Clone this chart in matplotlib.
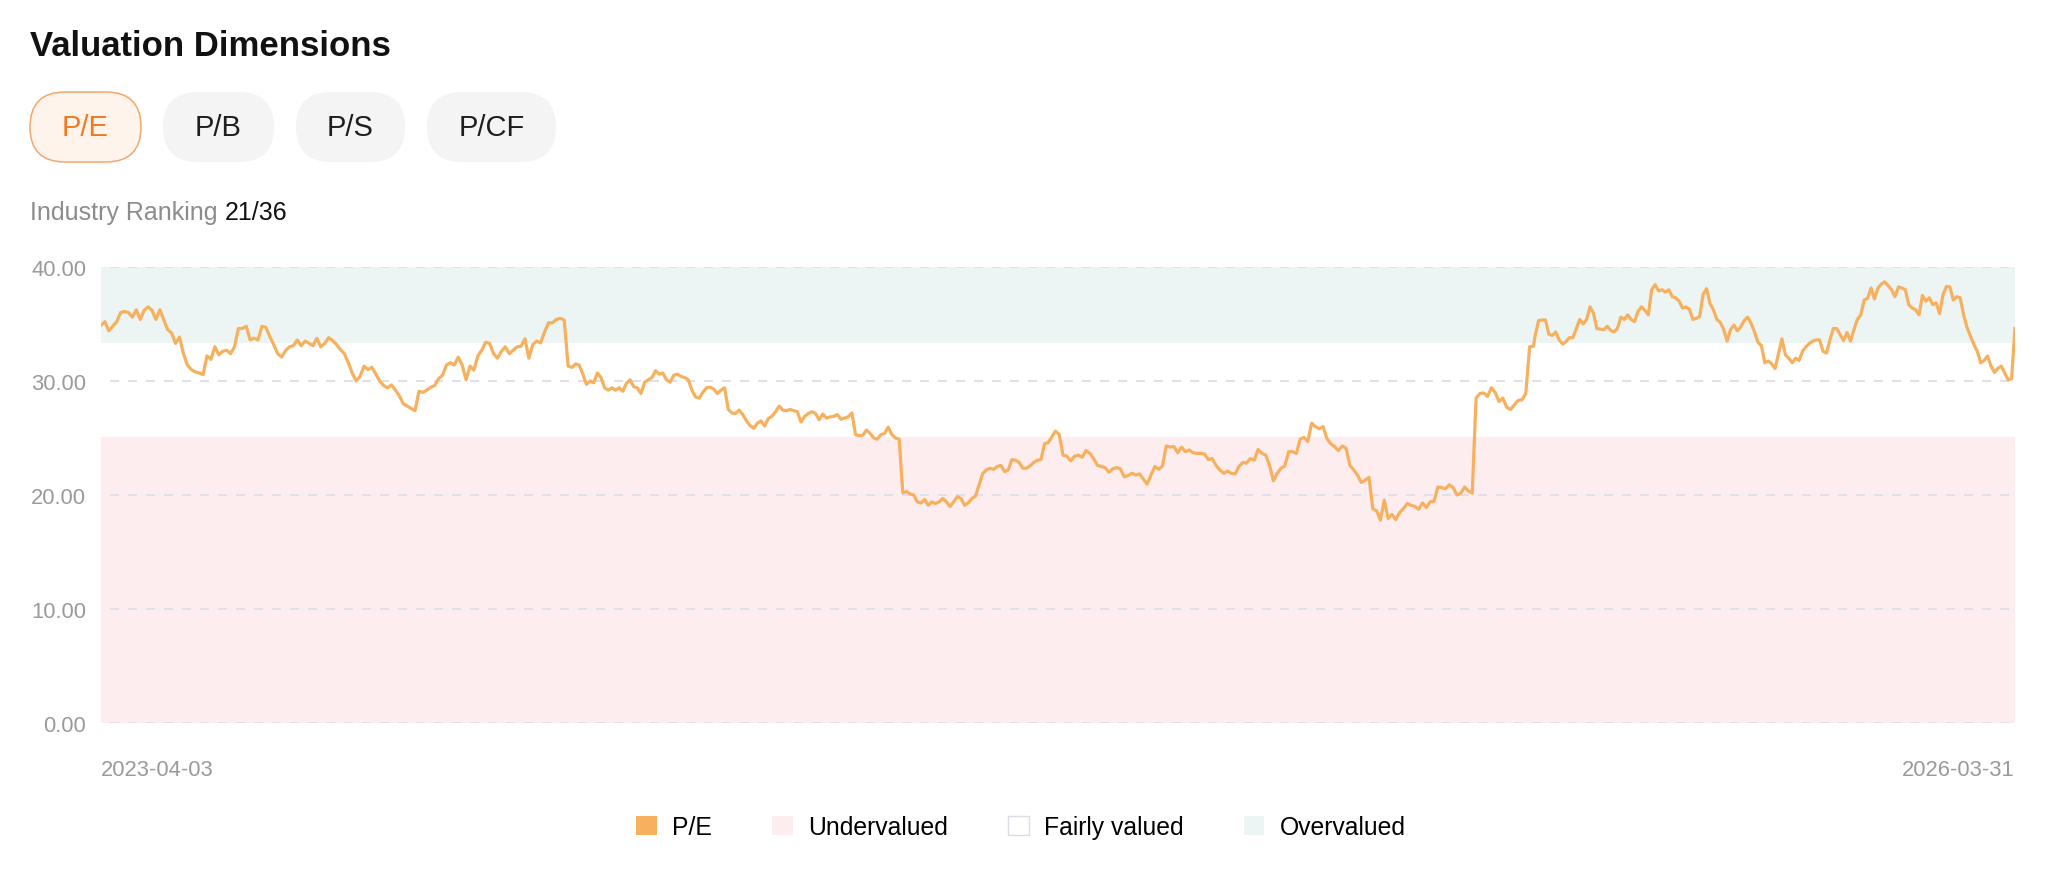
import matplotlib
matplotlib.use('Agg')
import matplotlib.pyplot as plt
import pandas as pd
from matplotlib.patches import FancyBboxPatch, Patch
from matplotlib.transforms import IdentityTransform

plt.rcParams['font.family'] = ['Liberation Sans', 'DejaVu Sans']

# P/E values, in four pieces (each piece spans its own date range)
pe_1 = [34.9, 35.2, 34.4, 34.8, 35.2, 36.0, 36.1, 36.0, 35.6, 36.25, 35.4, 36.2, 36.5, 36.2,
        35.4, 36.25, 35.35, 34.5, 34.2, 33.3, 33.85, 32.4, 31.4, 31.0, 30.8, 30.7, 30.55, 32.2,
        31.9, 33.0, 32.3, 32.6, 32.7, 32.4, 33.0, 34.6, 34.6, 34.8, 33.6, 33.75, 33.6, 34.8,
        34.7, 33.9, 33.2, 32.4, 32.1, 32.65, 33.0, 33.1, 33.6, 33.1, 33.5, 33.3, 33.1, 33.75,
        33.0, 33.3, 33.8, 33.55, 33.2, 32.75, 32.4, 31.6, 30.7, 30.0, 30.4, 31.3, 31.0, 31.2,
        30.6, 30.0, 29.6, 29.4, 29.65, 29.2, 28.7, 28.0, 27.8, 27.6, 27.4, 29.1, 29.0, 29.2,
        29.45, 29.6, 30.2, 30.5, 31.4, 31.6, 31.4, 32.1, 31.4, 30.1, 31.3, 30.95, 32.2, 32.7,
        33.4, 33.3, 32.4, 32.0, 32.6, 33.0, 32.4, 32.7, 33.0, 33.05, 33.7, 32.0, 33.2, 33.5,
        33.35, 34.3, 35.1, 35.1, 35.4, 35.5, 35.35, 31.3, 31.2]
pe_2 = [31.5, 31.4, 30.6, 29.7, 30.0, 29.85, 30.7, 30.3, 29.4, 29.2, 29.4, 29.2, 29.4, 29.1,
        29.8, 30.1, 29.5, 29.4, 28.9, 29.9, 30.1, 30.3, 30.9, 30.6, 30.7, 30.1, 29.9, 30.5,
        30.6, 30.4, 30.3, 30.1, 29.2, 28.6, 28.5, 29.0, 29.4, 29.45, 29.3, 28.9, 29.2, 29.4,
        27.5, 27.2, 27.15, 27.45, 27.05, 26.5, 26.1, 25.85, 26.3, 26.5, 26.05, 26.7, 26.9, 27.3,
        27.8, 27.45, 27.4, 27.5, 27.4, 27.3, 26.4, 26.9, 27.15, 27.3, 27.15, 26.6, 27.1, 26.75,
        26.85, 26.9, 27.05, 26.65, 26.75, 26.85, 27.2, 25.3, 25.2, 25.25, 25.7, 25.4, 25.0,
        24.9, 25.3, 25.4, 25.95, 25.3, 25.0, 24.9, 20.2, 20.3, 20.1, 20.0, 19.4, 19.3, 19.6,
        19.1, 19.4, 19.25, 19.4, 19.7, 19.4, 19.0, 19.4, 19.85, 19.7, 19.1, 19.3, 19.7, 19.9,
        20.9, 21.9, 22.2, 22.35, 22.25, 22.5, 22.6, 22.05, 22.2, 23.1, 23.05, 22.85, 22.35,
        22.35, 22.55, 22.85, 23.05, 23.1, 24.5, 24.6, 25.1]
pe_3 = [25.6, 25.3, 23.5, 23.4, 23.0, 23.4, 23.5, 23.3, 23.9, 23.65, 23.2, 22.6, 22.5, 22.4,
        22.0, 22.3, 22.4, 22.3, 21.6, 21.7, 21.9, 21.75, 21.85, 21.4, 20.95, 21.75, 22.5, 22.25,
        22.55, 24.3, 24.2, 24.25, 23.7, 24.2, 23.8, 23.95, 23.7, 23.65, 23.65, 23.6, 23.1, 23.2,
        22.6, 22.2, 21.9, 22.1, 21.9, 21.85, 22.5, 22.85, 22.8, 23.2, 23.05, 24.0, 23.65, 23.5,
        22.6, 21.25, 21.9, 22.35, 22.55, 23.8, 23.8, 23.65, 24.9, 25.05, 24.7, 26.3, 26.0, 25.8,
        26.0, 24.95, 24.5, 24.25, 23.9, 24.3, 24.1, 22.6, 22.2, 21.75, 21.1, 21.3, 21.55, 18.8,
        18.6, 17.8, 19.55, 17.95, 18.3, 17.85, 18.45, 18.8, 19.25, 19.1, 19.0, 18.75, 19.3,
        18.9, 19.4, 19.45, 20.7, 20.65, 20.55, 20.9, 20.65, 20.0, 20.15, 20.7, 20.35, 20.15,
        28.5, 28.9, 28.95, 28.65, 29.4, 29.0, 28.2, 28.5, 27.7, 27.5, 27.9, 28.3, 28.35, 28.9,
        33.0, 33.05]
pe_4 = [34.0, 35.3, 35.35, 35.35, 34.1, 34.0, 34.3, 33.6, 33.25, 33.45, 33.8, 33.8, 34.6, 35.4,
        35.0, 35.4, 36.5, 35.95, 34.6, 34.55, 34.5, 34.8, 34.45, 34.3, 34.6, 35.6, 35.4, 35.8,
        35.4, 35.2, 36.1, 36.5, 36.2, 35.8, 38.0, 38.45, 37.9, 38.0, 37.8, 38.0, 37.4, 37.3,
        37.0, 36.4, 36.5, 36.3, 35.4, 35.5, 35.65, 37.6, 38.1, 36.8, 36.25, 35.4, 35.15, 34.5,
        33.5, 34.5, 34.9, 34.4, 34.75, 35.3, 35.6, 35.05, 34.3, 33.4, 33.1, 31.6, 31.75, 31.5,
        31.1, 32.4, 33.7, 32.3, 32.0, 31.6, 32.0, 31.8, 32.6, 33.0, 33.3, 33.5, 33.6, 33.6,
        32.6, 32.45, 33.6, 34.6, 34.6, 34.05, 33.55, 34.25, 33.5, 34.5, 35.4, 35.8, 37.1, 37.25,
        38.15, 37.2, 38.15, 38.5, 38.7, 38.35, 38.0, 37.4, 38.25, 38.15, 38.0, 36.7, 36.4,
        36.25, 35.8, 37.5, 37.0, 37.3, 36.7, 36.85, 35.9, 37.6, 38.3, 38.25, 37.1, 37.4, 37.3,
        35.8, 34.7, 33.95, 33.2, 32.6, 31.6, 31.8, 32.2, 31.3, 30.75, 31.1, 31.3, 30.7, 30.1,
        30.2, 34.6]
pe_pieces = [pe_1, pe_2, pe_3, pe_4]
piece_dates = [('2023-04-03', '2023-12-28'), ('2023-12-30', '2024-09-27'),
               ('2024-09-29', '2025-06-29'), ('2025-06-30', '2026-03-31')]

start_date, end_date = '2023-04-03', '2026-03-31'
under_max = 25.1   # below: undervalued
over_min = 33.3    # above: overvalued
y_ticks = [0, 10, 20, 30, 40]
buttons = ['P/E', 'P/B', 'P/S', 'P/CF']
ranking = '21/36'
legend_labels = ['P/E', 'Undervalued', 'Fairly valued', 'Overvalued']

dates = pd.DatetimeIndex([])
vals = []
for (d0, d1), seg in zip(piece_dates, pe_pieces):
    dates = dates.append(pd.date_range(d0, d1, periods=len(seg)))
    vals += seg
pe = pd.Series(vals, index=dates)

line_c = '#F6B05E'
pink = '#FDEDEF'
teal = '#ECF5F3'
grid_c = '#DFE0E9'
tick_c = '#9A9A9A'

W, H = 2048, 878
fig = plt.figure(figsize=(W / 100, H / 100), dpi=100)
ax = fig.add_axes([101 / W, 1 - 724 / H, (2015 - 101) / W, (724 - 268) / H])

ax.axhspan(0, under_max, color=pink, lw=0, zorder=0)
ax.axhspan(over_min, 40, color=teal, lw=0, zorder=0)
for t in y_ticks:
    ax.axhline(t, color=grid_c, lw=1.44, ls=(4.5, (4.5, 4.5)), zorder=1)
ax.plot(pe.index, pe.values, color=line_c, lw=2.3, zorder=3, solid_joinstyle='round')

ax.set_xlim(pd.Timestamp(start_date), pd.Timestamp(end_date))
ax.set_ylim(0, 40)
ax.set_yticks(y_ticks)
ax.set_yticklabels([f'{t:.2f}' for t in y_ticks])
ax.set_xticks([])
ax.tick_params(axis='y', length=0, pad=10.8, labelsize=15.8, labelcolor=tick_c)
for s in ax.spines.values():
    s.set_visible(False)

xt = ax.get_xaxis_transform()
ax.text(pd.Timestamp(start_date), -0.101, start_date, transform=xt, ha='left', va='center',
        fontsize=15.8, color=tick_c)
ax.text(pd.Timestamp(end_date), -0.101, end_date, transform=xt, ha='right', va='center',
        fontsize=15.8, color=tick_c)

# header
fig.text(30 / W, 1 - 56 / H, 'Valuation Dimensions', fontsize=25, fontweight='bold',
         color='#111111', va='baseline')

btn_x = [(30, 141), (163, 274), (296, 405), (427, 556)]
btn_top, btn_bot = 93, 163
for i, (name, (x0, x1)) in enumerate(zip(buttons, btn_x)):
    active = i == 0
    box = FancyBboxPatch((x0, H - btn_bot), x1 - x0, btn_bot - btn_top,
                         boxstyle='round,pad=0,rounding_size=35',
                         transform=IdentityTransform(),
                         facecolor='#FFF4EC' if active else '#F4F4F4',
                         edgecolor='#F3A76E' if active else 'none', lw=1.1)
    fig.patches.append(box)
    fig.text((x0 + x1) / 2 / W, 1 - (btn_top + btn_bot) / 2 / H, name, fontsize=21,
             ha='center', va='center', color='#F07A22' if active else '#1E1E1E')

t1 = fig.text(30 / W, 1 - 220 / H, 'Industry Ranking ', fontsize=18, color='#8C8C8C',
              va='baseline')
fig.canvas.draw()
bb = t1.get_window_extent()
fig.text(bb.x1 / W, 1 - 220 / H, ranking, fontsize=18, color='#111111', va='baseline')

# legend
handles = [Patch(facecolor=line_c, edgecolor='none'),
           Patch(facecolor=pink, edgecolor='none'),
           Patch(facecolor='white', edgecolor='#DCDCE4', lw=1),
           Patch(facecolor=teal, edgecolor='none')]
fig.legend(handles, legend_labels, loc='center', bbox_to_anchor=(1021 / W, 1 - 828 / H),
           ncol=4, frameon=False, fontsize=17.8, handlelength=0.82, handleheight=0.82,
           handletextpad=0.62, columnspacing=2.45)

fig.savefig('out.png', dpi=100)
